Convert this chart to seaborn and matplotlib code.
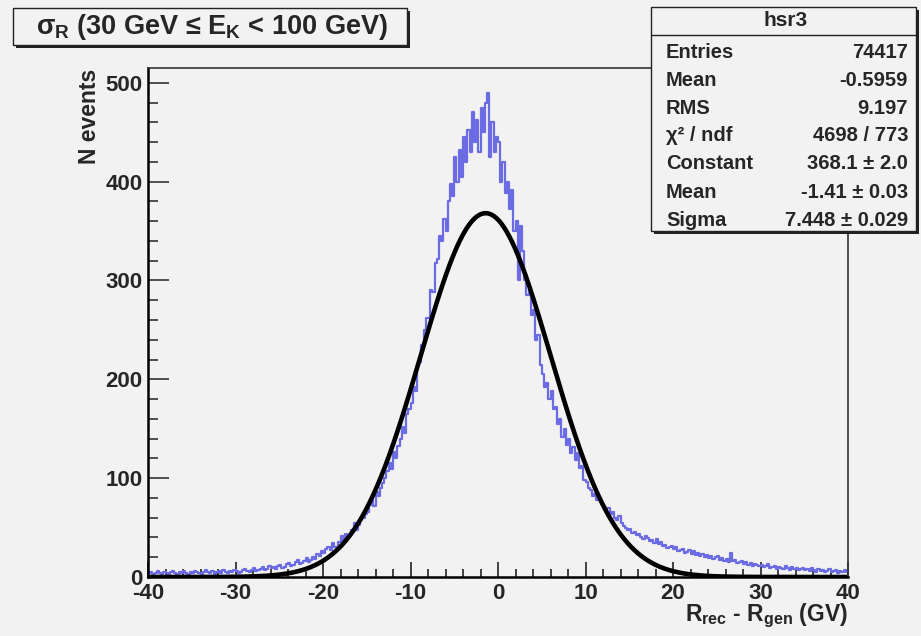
import numpy as np
import pandas as pd
import matplotlib
matplotlib.use("Agg")
import matplotlib.pyplot as plt
import seaborn as sns
from matplotlib.patches import Rectangle
from matplotlib.ticker import MultipleLocator

# ---------------- data ----------------
bin_width = 0.25
x_range = (-40.0, 40.0)
bin_centers = np.arange(-39.875, 40.0, 0.25)
counts = [
    # -40 .. -35
    4, 5, 3, 4, 6, 4, 3, 5, 4, 3, 5, 6, 4, 3, 5, 4, 6, 4, 3, 5,
    # -35 .. -30
    4, 6, 5, 4, 3, 5, 7, 5, 4, 6, 3, 5, 6, 4, 7, 5, 4, 6, 5, 7,
    # -30 .. -25
    6, 4, 5, 7, 8, 6, 5, 7, 9, 6, 7, 8, 10, 7, 8, 11, 9, 10, 8, 11,
    # -25 .. -20
    12, 9, 10, 13, 14, 11, 12, 15, 17, 13, 14, 16, 19, 15, 17, 20, 18, 23, 21, 26,
    # -20 .. -15
    24, 28, 30, 27, 34, 30, 29, 35, 41, 36, 44, 39, 43, 48, 55, 48, 53, 58, 60, 64,
    # -15 .. -10
    66, 73, 78, 72, 86, 82, 90, 95, 100, 107, 115, 109, 126, 120, 133, 140, 152, 146, 165, 170,
    # -10 .. -5
    176, 192, 188, 215, 218, 235, 250, 262, 262, 290, 288, 318, 322, 345, 340, 362, 350, 380, 398, 385,
    # -5 .. 0
    425, 400, 432, 405, 445, 420, 452, 430, 470, 440, 462, 430, 475, 450, 480, 490, 425, 460, 430, 445,
    # 0 .. 5
    440, 400, 420, 389, 400, 372, 392, 350, 360, 300, 355, 330, 300, 285, 290, 265, 270, 240, 245, 215,
    # 5 .. 10
    205, 192, 196, 180, 188, 170, 172, 155, 160, 142, 150, 134, 140, 125, 132, 118, 125, 110, 112, 98,
    # 10 .. 15
    96, 90, 88, 82, 84, 78, 80, 74, 72, 68, 70, 64, 66, 60, 58, 62, 55, 52, 50, 48,
    # 15 .. 20
    49, 45, 46, 42, 44, 40, 38, 41, 39, 36, 37, 34, 38, 33, 35, 31, 32, 29, 30, 31,
    # 20 .. 25
    28, 30, 26, 27, 28, 24, 25, 27, 23, 26, 22, 24, 21, 23, 20, 22, 19, 21, 18, 20,
    # 25 .. 30
    21, 17, 19, 16, 18, 15, 24, 16, 17, 14, 15, 16, 13, 15, 12, 14, 11, 13, 12, 11,
    # 30 .. 35
    12, 10, 11, 13, 9, 10, 11, 8, 10, 9, 8, 11, 9, 7, 10, 8, 9, 7, 8, 9,
    # 35 .. 40
    7, 8, 6, 9, 7, 5, 8, 6, 7, 5, 6, 8, 5, 6, 7, 4, 6, 5, 7, 5,
]
# Gaussian fit parameters shown in the stats box
fit_constant = 368.1
fit_mean = -1.41
fit_sigma = 7.448

stats_labels = ["Entries", "Mean", "RMS", "χ² / ndf", "Constant", "Mean", "Sigma"]
stats_values = ["74417", "-0.5959", "9.197", "4698 / 773", "368.1 ± 2.0",
                "-1.41 ± 0.03", "7.448 ± 0.029"]
x_ticks = [-40, -30, -20, -10, 0, 10, 20, 30, 40]
y_ticks = [0, 100, 200, 300, 400, 500]

# ---------------- style ----------------
BG = "#f2f2f2"
HIST_COLOR = "#6b6be3"
sns.set_theme(style="ticks")
plt.rcParams["font.family"] = ["Liberation Sans", "DejaVu Sans"]
plt.rcParams["font.weight"] = "bold"
plt.rcParams["mathtext.fontset"] = "custom"
plt.rcParams["mathtext.rm"] = "Liberation Sans:bold"
plt.rcParams["mathtext.bf"] = "Liberation Sans:bold"
plt.rcParams["mathtext.it"] = "Liberation Sans"
plt.rcParams["mathtext.sf"] = "Liberation Sans"

W, H = 921, 636
fig = plt.figure(figsize=(W / 100, H / 100), dpi=100, facecolor=BG)

def fx(px):
    return px / W

def fy(py):
    return 1 - py / H

L, R, T, B = 148, 848, 68, 577
ax = fig.add_axes([fx(L), fy(B), (R - L) / W, (B - T) / H])
ax.set_facecolor(BG)

df = pd.DataFrame({"x": bin_centers, "w": np.asarray(counts, dtype=float)})
sns.histplot(data=df, x="x", weights="w", binwidth=bin_width, binrange=x_range,
             element="step", fill=False, color=HIST_COLOR, linewidth=1.6, ax=ax)

xf = np.linspace(-40, 40, 801)
yf = fit_constant * np.exp(-0.5 * ((xf - fit_mean) / fit_sigma) ** 2)
sns.lineplot(x=xf, y=yf, color="black", linewidth=3.3, ax=ax)

ax.set_xlim(-40, 40)
ax.set_ylim(0, 515)
ax.set_xticks(x_ticks)
ax.set_yticks(y_ticks)
ax.set_xticklabels([str(v) for v in x_ticks])
ax.set_yticklabels([str(v) for v in y_ticks])
ax.xaxis.set_minor_locator(MultipleLocator(2))
ax.yaxis.set_minor_locator(MultipleLocator(20))
ax.tick_params(axis="x", which="major", direction="in", length=11, width=1.2,
               labelsize=16, pad=4, color="#222222")
ax.tick_params(axis="x", which="minor", direction="in", length=5.5, width=1.2,
               color="#222222")
ax.tick_params(axis="y", which="major", direction="in", length=15, width=1.2,
               labelsize=16, pad=4, color="#333333")
ax.tick_params(axis="y", which="minor", direction="in", length=7.5, width=1.2,
               color="#333333")
for lab in ax.get_xticklabels() + ax.get_yticklabels():
    lab.set_fontweight("bold")
for side in ["left", "bottom"]:
    ax.spines[side].set_linewidth(1.8)
    ax.spines[side].set_color("black")
for side in ["top", "right"]:
    ax.spines[side].set_visible(True)
    ax.spines[side].set_linewidth(1.2)
    ax.spines[side].set_color("#333333")
ax.set_xlabel("")
ax.set_ylabel("")

fig.text(fx(848), fy(616), r"R$_{\mathbf{rec}}$ - R$_{\mathbf{gen}}$ (GV)",
         ha="right", va="center", fontsize=16.5, fontweight="bold")
fig.text(fx(89), fy(69), "N events", rotation=90, ha="center", va="top",
         fontsize=16.5, fontweight="bold")

# ---------------- boxes ----------------
def box(x0, y0, x1, y1, shadow=3):
    fig.patches.append(Rectangle((fx(x0 + shadow), fy(y1 + shadow)),
                                 (x1 - x0) / W, (y1 - y0) / H,
                                 transform=fig.transFigure, facecolor="#222222",
                                 edgecolor="none", zorder=5))
    fig.patches.append(Rectangle((fx(x0), fy(y1)), (x1 - x0) / W, (y1 - y0) / H,
                                 transform=fig.transFigure, facecolor=BG,
                                 edgecolor="#222222", linewidth=1.0, zorder=6))

box(13, 8, 407, 45)
fig.text(fx(212), fy(27),
         r"$\sigma_{\mathbf{R}}$ (30 GeV ≤ E$_{\mathbf{K}}$ < 100 GeV)",
         ha="center", va="center", fontsize=19.5, fontweight="bold", zorder=7)

box(651, 7, 916, 231)
fig.lines.append(plt.Line2D([fx(651), fx(916)], [fy(35), fy(35)],
                            transform=fig.transFigure, color="#222222",
                            linewidth=1.0, zorder=7))
fig.text(fx(786), fy(21), "hsr3", ha="center", va="center", fontsize=15,
         fontweight="bold", zorder=7)
row_y = [52, 80, 108, 136, 164, 193, 221]
for lab, val, yy in zip(stats_labels, stats_values, row_y):
    fig.text(fx(666), fy(yy), lab, ha="left", va="center", fontsize=14.5,
             fontweight="bold", zorder=7)
    fig.text(fx(908), fy(yy), val, ha="right", va="center", fontsize=14.5,
             fontweight="bold", zorder=7)

fig.savefig("out.png", dpi=100, facecolor=BG)
